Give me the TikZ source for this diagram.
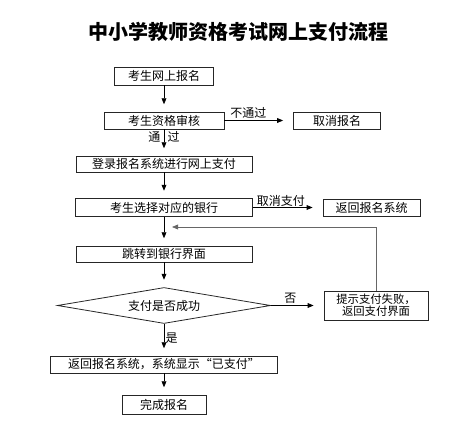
\documentclass[tikz,border=0pt]{standalone}
\usepackage{fontspec}
\setmainfont{Noto Sans CJK SC}
\usetikzlibrary{arrows.meta,shapes.geometric}
\begin{document}
\begin{tikzpicture}[x=0.75pt,y=-0.75pt,
  box/.style={draw=black!85, line width=0.6pt, inner sep=0pt, align=center,
    font=\fontsize{9}{10}\selectfont},
  varr/.style={-{Triangle[length=4.5pt,width=3.6pt]}, line width=0.6pt, shorten >=5.5pt},
  harr/.style={-{Triangle[length=4.5pt,width=3.6pt]}, line width=0.6pt, shorten >=7.5pt},
  lbl/.style={font=\fontsize{9}{10}\selectfont, inner sep=1pt}
]
\useasboundingbox (0,0) rectangle (472,424);
\node[font=\fontsize{15}{15}\selectfont\bfseries] (title) at (238.5,32) {中小学教师资格考试网上支付流程};

\node[box, minimum width=74.25pt, minimum height=13.5pt] (b1) at (164,76) {考生网上报名};
\node[box, minimum width=90pt, minimum height=12.75pt] (b2) at (164,120.5) {考生资格审核};
\node[box, minimum width=65.25pt, minimum height=12.75pt] (b3) at (337,120.5) {取消报名};
\node[box, minimum width=132pt, minimum height=12pt] (b4) at (164,164) {登录报名系统进行网上支付};
\node[box, minimum width=132.75pt, minimum height=13.5pt] (b5) at (164,207.5) {考生选择对应的银行};
\node[box, minimum width=72.75pt, minimum height=12.75pt] (b6) at (371.5,207.5) {返回报名系统};
\node[box, minimum width=132pt, minimum height=12pt] (b7) at (164,254) {跳转到银行界面};
\node[box, diamond, shape aspect=6, minimum width=159.75pt, minimum height=27pt] (dia) at (164,305.5) {支付是否成功};
\node[box, minimum width=78pt, minimum height=21.75pt, font=\fontsize{8.5}{9}\selectfont] (b9) at (376,305.5) {提示支付失败，\\返回支付界面};
\node[box, minimum width=170.25pt, minimum height=12.75pt] (b10) at (164,364.5) {返回报名系统，系统显示“已支付”};
\node[box, minimum width=63pt, minimum height=14.25pt] (b11) at (164,404.5) {完成报名};
\coordinate (fb) at (164,227);

\draw[varr] (b1) -- (b2);
\draw[harr] (b2) -- node[lbl, above, pos=0.35] {不通过} (b3);
\draw[varr] (b2) -- node[lbl, left, inner sep=2.5pt, pos=0.3] {通} node[lbl, right, inner sep=2.5pt, pos=0.3] {过} (b4);
\draw[varr] (b4) -- (b5);
\draw[harr] (b5) -- node[lbl, above, inner sep=0.5pt, pos=0.4] {取消支付} (b6);
\draw[varr] (b5) -- (b7);
\draw[varr] (b7) -- (dia);
\draw[harr] (dia) -- node[lbl, above, pos=0.37] {否} (b9);
\draw[varr] (dia) -- node[lbl, right, pos=0.45] {是} (b10);
\draw[varr] (b10) -- (b11);
\draw[varr, draw=black!60, shorten >=6pt] (b9.north) |- (fb);
\end{tikzpicture}
\end{document}
